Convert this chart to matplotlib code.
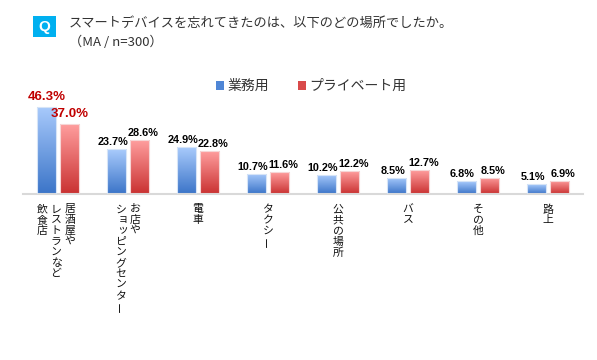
import matplotlib
matplotlib.use("Agg")
import matplotlib.pyplot as plt
import numpy as np
from matplotlib.colors import LinearSegmentedColormap
from matplotlib.patches import Patch, Rectangle

plt.rcParams['font.family'] = ['Noto Sans CJK JP', 'DejaVu Sans']

# ---- data ----
# category labels written vertically; columns listed right-to-left
categories = [
    ["居酒屋や", "レストランなど", "飲食店"],
    ["お店や", "ショッピングセンター"],
    ["電車"],
    ["タクシー"],
    ["公共の場所"],
    ["バス"],
    ["その他"],
    ["路上"],
]
series_names = ["業務用", "プライベート用"]
business = [46.3, 23.7, 24.9, 10.7, 10.2, 8.5, 6.8, 5.1]
private = [37.0, 28.6, 22.8, 11.6, 12.2, 12.7, 8.5, 6.9]
title_line1 = "スマートデバイスを忘れてきたのは、以下のどの場所でしたか。"
title_line2 = "（MA / n=300）"

W, H = 597, 360
fig = plt.figure(figsize=(W / 100, H / 100), dpi=100)
ax = fig.add_axes([23 / W, 1 - 194 / H, 560 / W, 140 / H])

x = np.arange(len(business))
width = 0.28
off = 0.165

blue_cmap = LinearSegmentedColormap.from_list("b", ["#3b74c8", "#a9cbfc"])
red_cmap = LinearSegmentedColormap.from_list("r", ["#c93131", "#ff9e9e"])
grad = np.linspace(0, 1, 256).reshape(-1, 1)

def grad_bars(xs, vals, cmap, edge):
    bars = ax.bar(xs, vals, width, color="none", edgecolor=edge, linewidth=0.8, zorder=3)
    for b in bars:
        x0, y0 = b.get_x(), b.get_y()
        w, h = b.get_width(), b.get_height()
        im = ax.imshow(grad, extent=[x0, x0 + w, y0, y0 + h], origin="lower",
                       aspect="auto", cmap=cmap, zorder=2)
        im.set_clip_path(b)
    return bars

grad_bars(x - off, business, blue_cmap, "#d6e4f7")
grad_bars(x + off, private, red_cmap, "#f6d6d6")

ax.set_xlim(-0.5, len(business) - 0.5)
ax.set_ylim(0, 74.3)
for s in ["top", "left", "right"]:
    ax.spines[s].set_visible(False)
ax.spines["bottom"].set_color("#d9d9d9")
ax.spines["bottom"].set_linewidth(1.5)
ax.set_xticks([])
ax.set_yticks([])
ax.patch.set_alpha(0)

# value labels
for i, (b, p) in enumerate(zip(business, private)):
    if i == 0:
        col, fs, pad, spread = "#c00000", 9.5, 3, 0
    else:
        col, fs, pad, spread = "black", 7.8, 1.5, 2.8
    for xv, v, sgn in ((i - off, b, -1), (i + off, p, 1)):
        ax.annotate(f"{v:.1f}%", (xv, v), xytext=(sgn * spread, pad), textcoords="offset points",
                    ha="center", va="bottom", fontsize=fs, fontweight="bold",
                    family=["Liberation Sans", "DejaVu Sans"], color=col, zorder=5)

# vertical category labels
small_kana = set("ァィゥェォッャュョヮ")
col_sp = 14
adv = 10.8
for i, cols in enumerate(categories):
    n = len(cols)
    shift = -2 if n == 3 else 0
    for k, colstr in enumerate(cols):
        dx = (n - 1) / 2 * col_sp - k * col_sp + shift
        for j, ch in enumerate(colstr):
            dy = -(10 + adv / 2 + j * adv)
            rot = 0
            ddx, ddy = 0, 0
            if ch in "ー":
                rot = 90
            if ch in small_kana:
                ddx, ddy = 2, 1
            ax.annotate(ch, (i, 0), xycoords=("data", "axes fraction"),
                        xytext=(dx + ddx, dy + ddy), textcoords="offset pixels",
                        ha="center", va="center", fontsize=7.8, rotation=rot,
                        color="#111111", annotation_clip=False)

# legend
handles = [Patch(facecolor="#4f86d6", edgecolor="none"),
           Patch(facecolor="#d94a4a", edgecolor="none")]
fig.legend(handles, series_names, loc="center", bbox_to_anchor=(311 / W, 1 - 86 / H),
           ncol=2, frameon=False, fontsize=10, handlelength=0.6, handleheight=0.6,
           handletextpad=0.2, columnspacing=2.1, labelcolor="#333333")

# title with Q box
fig.patches.append(Rectangle((33 / W, 1 - 37 / H), 23 / W, 21 / H, transform=fig.transFigure,
                             facecolor="#00b0f0", edgecolor="none"))
fig.text(44.5 / W, 1 - 26.5 / H, "Q", ha="center", va="center", color="white",
         fontsize=11, fontweight="bold", family=["Liberation Sans", "DejaVu Sans"])
fig.text(69 / W, 1 - 23 / H, title_line1, ha="left", va="center", fontsize=9.5, color="#333333")
fig.text(69 / W, 1 - 42 / H, title_line2, ha="left", va="center", fontsize=9.5, color="#333333")

fig.savefig("out.png", dpi=100)
